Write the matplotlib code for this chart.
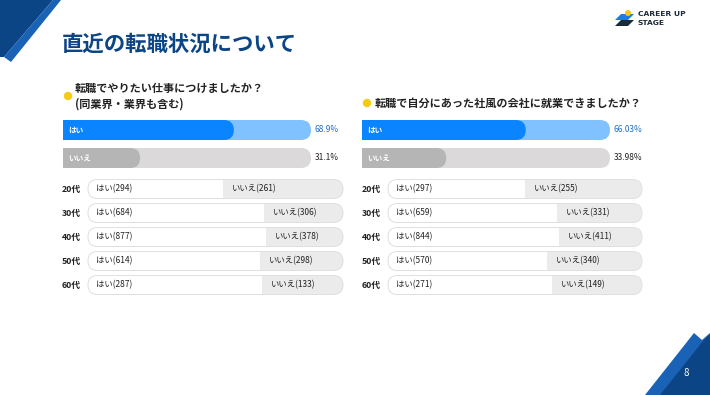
import matplotlib
matplotlib.use('Agg')
import matplotlib.pyplot as plt
from matplotlib.patches import FancyBboxPatch, Polygon, Circle

plt.rcParams['font.family'] = ['Noto Sans CJK JP', 'DejaVu Sans']

W, H = 710, 395

# ---- data ----
title = "直近の転職状況について"
ages = ["20代", "30代", "40代", "50代", "60代"]
answers = ["はい", "いいえ"]

q1_lines = ["転職でやりたい仕事につけましたか？", "(同業界・業界も含む)"]
q1_pct = [68.9, 31.1]
q1_yes = [294, 684, 877, 614, 287]
q1_no = [261, 306, 378, 298, 133]

q2_lines = ["転職で自分にあった社風の会社に就業できましたか？"]
q2_pct = [66.03, 33.98]
q2_yes = [297, 659, 844, 570, 271]
q2_no = [255, 331, 411, 340, 149]

# ---- colours ----
NAVY = '#0c4585'
BLUE = '#0a84ff'
LIGHT_BLUE = '#7fc2ff'
GREY = '#b5b5b5'
LIGHT_GREY = '#dbd9d9'
PILL = '#ebebeb'
TEXT = '#222222'

fig = plt.figure(figsize=(W / 100, H / 100), dpi=100)
bg = fig.add_axes([0, 0, 1, 1])
bg.set_xlim(0, W)
bg.set_ylim(H, 0)
bg.axis('off')


def px_axes(x0, y0, x1, y1):
    ax = fig.add_axes([x0 / W, 1 - y1 / H, (x1 - x0) / W, (y1 - y0) / H])
    ax.axis('off')
    return ax


# rounded box in data coords of an axes with ylim(0, 1); radius = half bar height
def round_box(ax, left, width, rs, color, **kw):
    p = FancyBboxPatch((left, 0), width, 1,
                       boxstyle="round,pad=0,rounding_size={}".format(rs),
                       mutation_aspect=1 / (2 * rs), facecolor=color,
                       edgecolor='none', **kw)
    ax.add_patch(p)
    return p


def main_bar(x0, x1, y0, y1, pct, fg, bgc, label, pct_color):
    ax = px_axes(x0, y0, x1, y1)
    ax.set_xlim(0, 100)
    ax.set_ylim(0, 1)
    rs = (y1 - y0) / 2 * 100 / (x1 - x0)
    round_box(ax, -rs, 100 + rs, rs, bgc)
    round_box(ax, -rs, pct + rs, rs, fg)
    ax.annotate(label, xy=(0, 0.5), xycoords='axes fraction', xytext=(4, 0),
                textcoords='offset points', va='center', ha='left',
                fontsize=5.5, fontweight='bold', color='white')
    ax.annotate("{}%".format(pct), xy=(1, 0.5), xycoords='axes fraction',
                xytext=(2.5, 0), textcoords='offset points', va='center',
                ha='left', fontsize=6, color=pct_color)


def age_row(x0, x1, yc, yes, no):
    h = 19
    ax = px_axes(x0, yc - h / 2, x1, yc + h / 2)
    total = yes + no
    ax.set_xlim(0, total)
    ax.set_ylim(0, 1)
    rs = h / 2 * total / (x1 - x0)
    pill = round_box(ax, 0, total, rs, PILL)
    ax.barh(0.5, yes, height=1, left=0, color='white', clip_path=pill)
    edge = FancyBboxPatch((0, 0), total, 1,
                          boxstyle="round,pad=0,rounding_size={}".format(rs),
                          mutation_aspect=1 / (2 * rs), facecolor='none',
                          edgecolor='#e0e0e0', lw=0.7, clip_on=False)
    ax.add_patch(edge)
    ax.annotate("{}({})".format(answers[0], yes), xy=(0, 0.5), xytext=(5.8, 0),
                textcoords='offset points', va='center', ha='left',
                fontsize=6, color=TEXT, annotation_clip=False)
    ax.annotate("{}({})".format(answers[1], no), xy=(yes, 0.5), xytext=(6.5, 0),
                textcoords='offset points', va='center', ha='left',
                fontsize=6, color=TEXT, annotation_clip=False)


# ---- decorations ----
bg.add_patch(Polygon([(0, 0), (53, 0), (4, 57), (0, 57)], closed=True,
                     facecolor=NAVY, edgecolor='none'))
bg.add_patch(Polygon([(53, 0), (61, 0), (11, 62), (4, 57)], closed=True,
                     facecolor='#1a62b5', edgecolor='none'))
bg.add_patch(Polygon([(645, 395), (694, 333), (702, 340), (710, 333), (710, 395)],
                     closed=True, facecolor='#1a62b5', edgecolor='none'))
bg.add_patch(Polygon([(660, 395), (703, 341), (710, 334), (710, 395)],
                     closed=True, facecolor=NAVY, edgecolor='none'))
bg.text(686, 373, "8", color='white', fontsize=7, ha='center', va='center')

# logo
bg.add_patch(Polygon([(621, 14), (634, 14), (628, 20), (615, 20)], closed=True,
                     facecolor='#1e7be0', edgecolor='none'))
bg.add_patch(Polygon([(621, 20), (634, 20), (628, 26), (615, 26)], closed=True,
                     facecolor='#1b2a3a', edgecolor='none'))
bg.add_patch(Circle((628, 13), 3, facecolor='#f5c518', edgecolor='none'))
bg.text(638, 14.5, "CAREER UP", fontsize=5.4, fontweight='bold', color='#1b2a3a',
        va='center', ha='left', family='DejaVu Sans')
bg.text(638, 23, "STAGE", fontsize=5.4, fontweight='bold', color='#1b2a3a',
        va='center', ha='left', family='DejaVu Sans')

bg.text(62, 44, title, fontsize=15.4, fontweight='bold', color=NAVY,
        va='center', ha='left')

# ---- panels ----
panels = [
    dict(lines=q1_lines, pct=q1_pct, yes=q1_yes, no=q1_no,
         dot=(68, 96), text_x=75, text_y=[88, 104],
         bar=(63, 311), row=(88, 343), age_x=62),
    dict(lines=q2_lines, pct=q2_pct, yes=q2_yes, no=q2_no,
         dot=(367, 103), text_x=375, text_y=[103],
         bar=(362, 610), row=(388, 642), age_x=362),
]

for p in panels:
    bg.add_patch(Circle(p['dot'], 4.2, facecolor='#f7cb14', edgecolor='none'))
    for line, ty in zip(p['lines'], p['text_y']):
        bg.text(p['text_x'], ty, line, fontsize=8, fontweight='bold',
                color=TEXT, va='center', ha='left')
    bx0, bx1 = p['bar']
    main_bar(bx0, bx1, 120, 140, p['pct'][0], BLUE, LIGHT_BLUE, answers[0], '#1f6fc8')
    main_bar(bx0, bx1, 148, 168, p['pct'][1], GREY, LIGHT_GREY, answers[1], TEXT)
    rx0, rx1 = p['row']
    for i, age in enumerate(ages):
        yc = 189 + 24 * i
        bg.text(p['age_x'], yc, age, fontsize=6.3, fontweight='bold',
                color=TEXT, va='center', ha='left')
        age_row(rx0, rx1, yc, p['yes'][i], p['no'][i])

fig.savefig('out.png', dpi=100)
